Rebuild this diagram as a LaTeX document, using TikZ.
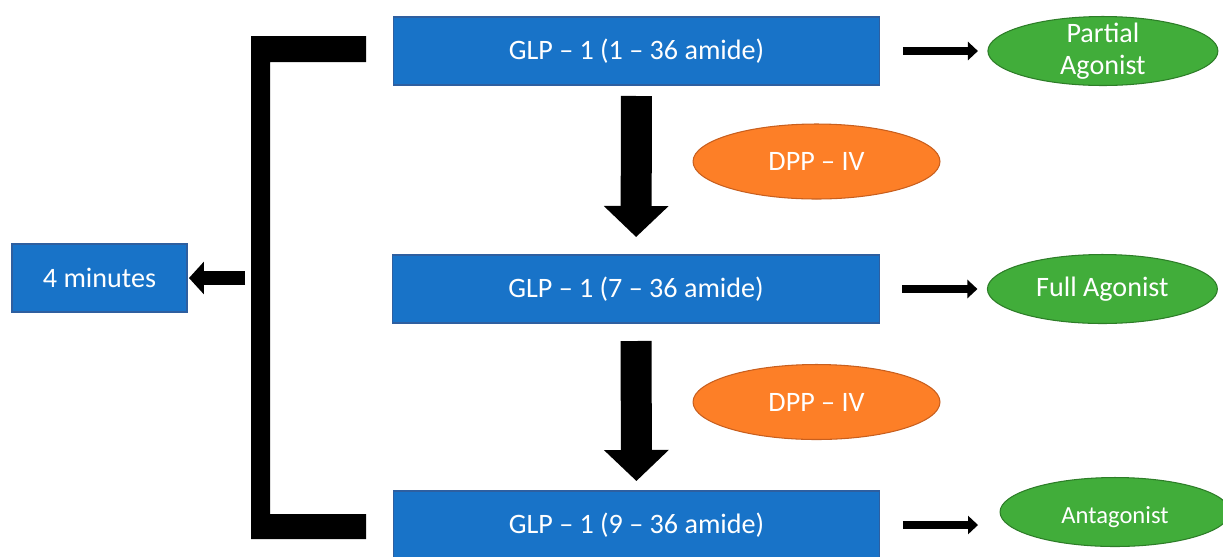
\documentclass[tikz,border=0pt]{standalone}
\usepackage{fontspec}
\setmainfont{Carlito}
\usepackage{tikz}
\usetikzlibrary{arrows.meta, positioning, shapes}

\definecolor{glpblue}{RGB}{24,115,200}
\definecolor{glpedge}{RGB}{46,95,160}
\definecolor{dppfill}{RGB}{253,127,39}
\definecolor{dppedge}{RGB}{200,95,30}
\definecolor{agfill}{RGB}{65,173,58}
\definecolor{agedge}{RGB}{45,125,40}

\begin{document}
\begin{tikzpicture}[x=0.02cm, y=-0.02cm, font=\fontsize{16}{18}\selectfont,
	every node/.style={text=white, outer sep=0pt},
	glpbox/.style={rectangle, draw=glpedge, fill=glpblue, line width=0.6pt, minimum width=9.74cm, minimum height=1.36cm},
	dpp/.style={ellipse, draw=dppedge, fill=dppfill, line width=0.6pt, minimum width=4.94cm, minimum height=1.5cm},
	effect/.style={ellipse, draw=agedge, fill=agfill, line width=0.6pt, minimum width=4.6cm, minimum height=1.38cm, align=center},
	bigdown/.style={line width=0.62cm, -{Triangle[width=1.26cm, length=0.62cm]}},
	sidearrow/.style={line width=0.16cm, -{Triangle[width=0.36cm, length=0.2cm]}}]
			\useasboundingbox (0,0) rectangle (1223,556);
			\node[glpbox] (glpA) at (636.5,51) {GLP – 1 (1 – 36 amide)};
			\node[glpbox] (glpB) at (636,289) {GLP – 1 (7 – 36 amide)};
			\node[glpbox] (glpC) at (636.5,525) {GLP – 1 (9 – 36 amide)};
			\node[glpbox, minimum width=3.5cm] (mins) at (99.5,278) {4 minutes};
			\node[dpp] (dppA) at (816.5,161.5) {DPP – IV};
			\node[dpp] (dppB) at (816.5,402) {DPP – IV};
			\node[effect, inner ysep=-4pt] (partial) [right=2.16cm of glpA] {Partial\\Agonist};
			\node[effect] (full) [right=2.16cm of glpB] {Full Agonist};
			\node[effect, font=\fontsize{14}{16}\selectfont, text height=13.6pt, text depth=0pt] (antag) at (1115,512) {Antagonist};
			% cleavage steps
			\draw[bigdown, shorten <=0.22cm, shorten >=0.36cm] (glpA) -- (glpB);
			\draw[bigdown, shorten <=0.36cm, shorten >=0.2cm] (glpB) -- (glpC);
			% activity at the receptor
			\draw[sidearrow, shorten <=0.46cm, shorten >=0.2cm] (glpA) -- (partial);
			\draw[sidearrow, shorten <=0.46cm, shorten >=0.2cm] (glpB) -- (full);
			\draw[sidearrow, shorten <=0.46cm, shorten >=0.44cm] (glpC.east) -- (glpC.east -| antag.west);
			% half-life bracket
			\fill (366,36) -- (251,36) -- (251,539) -- (366,539) -- (366,514) -- (270,514) -- (270,62) -- (366,62) -- cycle;
			\coordinate (brk) at (245,278);
			\draw[line width=0.28cm, -{Triangle[width=0.64cm, length=0.3cm]}, shorten >=0.04cm] (brk) -- (brk -| mins.east);
		\end{tikzpicture}
\end{document}
